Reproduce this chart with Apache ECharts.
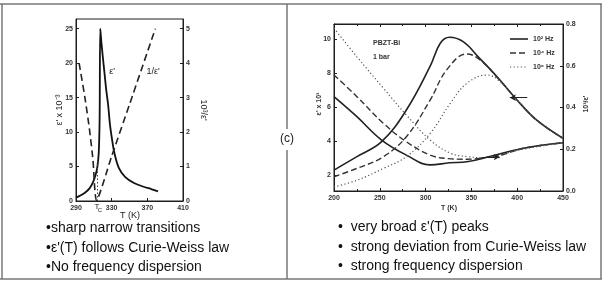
<!DOCTYPE html>
<html>
<head>
<meta charset="utf-8">
<script src="https://cdn.jsdelivr.net/npm/echarts@6/dist/echarts.min.js"></script>
<style>
  html, body { margin: 0; padding: 0; background: #fff; }
  #main { width: 609px; height: 282px; }
</style>
</head>
<body>
<div id="main"></div>
<script>
// left panel: normal ferroelectric
var tLeftEps = [290, 295, 300, 305, 309, 312, 314, 315.5, 316.5, 317.2, 318.5, 320, 322, 324, 326, 328, 330, 333, 338, 345, 355, 365, 375, 382];
var epsLeft  = [0.5, 0.8, 1.2, 1.8, 2.7, 3.8, 5.0, 7.0, 12, 25, 23, 21, 18.5, 16, 14, 11.2, 9.3, 7.0, 4.8, 3.5, 2.6, 2.1, 1.7, 1.4];
var tLeftInv = [293.5, 300, 305, 309, 313, 330, 350, 379];
var invLeft  = [4.0, 3.0, 2.1, 1.2, 0.02, 1.3, 2.8, 5.0];
var tc = 314;
var leftXTicks = [290, 330, 370, 410];
var leftYTicks = [0, 5, 10, 15, 20, 25];
var leftY2Ticks = [0, 1, 2, 3, 4, 5];

// right panel: PBZT-Bi relaxor, 3 frequencies
var freqNames = ['10² Hz', '10⁴ Hz', '10⁶ Hz'];
var tEps1 = [200, 225, 252, 279, 305, 316, 326, 341, 359, 378, 400, 421, 450];
var eps1  = [2.29, 3.08, 3.96, 5.82, 8.4, 9.75, 10.1, 9.84, 8.86, 7.78, 6.4, 5.24, 4.16];
var tEps2 = [200, 225, 254, 279, 305, 323, 345, 360, 378, 400, 421, 450];
var eps2  = [1.9, 2.39, 3.08, 4.25, 6.41, 8.18, 9.12, 8.75, 7.75, 6.4, 5.24, 4.16];
var tEps3 = [200, 225, 254, 279, 305, 327, 345, 367, 380, 400, 421, 450];
var eps3  = [1.3, 1.69, 2.39, 3.08, 4.45, 6.22, 7.39, 7.88, 7.55, 6.4, 5.24, 4.16];
var tInv1 = [200, 225, 252, 279, 305, 326, 345, 370, 407, 450];
var inv1  = [0.452, 0.356, 0.244, 0.172, 0.125, 0.135, 0.14, 0.165, 0.205, 0.231];
var tInv2 = [200, 225, 254, 279, 305, 325, 345, 365, 385, 407, 450];
var inv2  = [0.556, 0.452, 0.324, 0.236, 0.172, 0.155, 0.152, 0.16, 0.175, 0.205, 0.231];
var tInv3 = [200, 225, 254, 279, 305, 327, 345, 362, 380, 400, 450];
var inv3  = [0.78, 0.643, 0.492, 0.364, 0.244, 0.181, 0.165, 0.16, 0.17, 0.195, 0.231];
var rightYTicks = [2, 4, 6, 8, 10];
var rightY2Ticks = [0, 0.2, 0.4, 0.6, 0.8];

function zip(xs, ys) {
  return xs.map(function (x, i) { return [x, ys[i]]; });
}

var ink = '#1e1e1e';
var tickFont = { fontSize: 7, color: '#333', fontFamily: 'Liberation Sans', fontWeight: 'bold' };
var styles = [
  { type: 'solid', width: 1.6, color: '#222' },
  { type: [6, 3], width: 1.4, color: '#333' },
  { type: [1.2, 2.4], width: 1.2, color: '#555' }
];

function axisX(gridIndex, min, max, ticks, pos, showLabels) {
  return {
    type: 'value', gridIndex: gridIndex, min: min, max: max, position: pos,
    axisLine: { show: true, lineStyle: { color: ink, width: 1 } },
    axisTick: { show: true, inside: true, length: 3, customValues: ticks, lineStyle: { color: ink } },
    axisLabel: { show: showLabels, customValues: ticks, margin: 4, ...tickFont },
    splitLine: { show: false }
  };
}
function axisXRight(pos, showLabels) {
  return {
    type: 'value', gridIndex: 1, min: 200, max: 450, interval: 50, position: pos,
    axisLine: { show: true, lineStyle: { color: ink, width: 1 } },
    axisTick: { show: true, inside: true, length: 3, lineStyle: { color: ink } },
    minorTick: { show: true, splitNumber: 2, length: 2, lineStyle: { color: ink } },
    axisLabel: { show: showLabels, margin: 4, ...tickFont },
    splitLine: { show: false }
  };
}
function axisY(gridIndex, min, max, ticks, pos, fmt) {
  return {
    type: 'value', gridIndex: gridIndex, min: min, max: max, position: pos,
    axisLine: { show: true, lineStyle: { color: ink, width: 1 } },
    axisTick: { show: true, inside: true, length: 3, customValues: ticks, lineStyle: { color: ink } },
    axisLabel: { show: true, customValues: ticks, margin: 3, formatter: fmt, ...tickFont },
    splitLine: { show: false }
  };
}

var series = [];
series.push({
  type: 'line', xAxisIndex: 0, yAxisIndex: 0, symbol: 'none', smooth: 0.3,
  lineStyle: { color: '#111', width: 1.8 }, data: zip(tLeftEps, epsLeft), silent: true,
  markLine: {
    silent: true, symbol: 'none', label: { show: false },
    lineStyle: { type: [1.5, 2], color: '#444', width: 1 },
    data: [[{ coord: [tc, 0] }, { coord: [tc, 6] }]]
  }
});
series.push({
  type: 'line', xAxisIndex: 0, yAxisIndex: 1, symbol: 'none', smooth: 0.2,
  lineStyle: { color: '#222', width: 1.6, type: [7, 4] }, data: zip(tLeftInv, invLeft), silent: true
});

var epsSets = [zip(tEps1, eps1), zip(tEps2, eps2), zip(tEps3, eps3)];
var invSets = [zip(tInv1, inv1), zip(tInv2, inv2), zip(tInv3, inv3)];
for (var i = 0; i < 3; i++) {
  series.push({
    name: freqNames[i], type: 'line', xAxisIndex: 1, yAxisIndex: 2, symbol: 'none', smooth: 0.4,
    lineStyle: styles[i], itemStyle: { color: styles[i].color }, data: epsSets[i], silent: true,
    markLine: i === 0 ? {
      silent: true, symbol: ['none', 'arrow'], symbolSize: [5, 6], label: { show: false },
      lineStyle: { type: 'solid', color: '#222', width: 1 },
      data: [[{ coord: [411, 6.55] }, { coord: [392, 6.55] }]]
    } : undefined
  });
  series.push({
    name: freqNames[i], type: 'line', xAxisIndex: 1, yAxisIndex: 3, symbol: 'none', smooth: 0.4,
    lineStyle: styles[i], itemStyle: { color: styles[i].color }, data: invSets[i], silent: true,
    markLine: i === 0 ? {
      silent: true, symbol: ['none', 'arrow'], symbolSize: [5, 6], label: { show: false },
      lineStyle: { type: 'solid', color: '#222', width: 1 },
      data: [[{ coord: [361, 0.163] }, { coord: [381, 0.163] }]]
    } : undefined
  });
}

var frame = { stroke: '#777', lineWidth: 1.5 };
var bulletFont = '14px "Liberation Sans", Arial, sans-serif';
var smallBold = 'bold 7px "Liberation Sans", Arial, sans-serif';

// hand-drawn legend keys, same styles as the series
var legendKeys = [];
freqNames.forEach(function (name, k) {
  var y = 39 + k * 14;
  legendKeys.push({ type: 'line', shape: { x1: 510, y1: y, x2: 528, y2: y },
    style: { stroke: styles[k].color, lineWidth: styles[k].width, lineDash: styles[k].type === 'solid' ? null : styles[k].type } });
  legendKeys.push({ type: 'text', x: 533, y: y, style: { text: name, font: smallBold, fill: '#333', textVerticalAlign: 'middle' } });
});

var option = {
  animation: false,
  backgroundColor: '#fff',
  grid: [
    { left: 76, top: 19, width: 107, height: 182, show: true, borderColor: ink, borderWidth: 1 },
    { left: 334, top: 24, width: 229, height: 167, show: true, borderColor: ink, borderWidth: 1 }
  ],
  xAxis: [
    axisX(0, 290, 410, leftXTicks, 'bottom', true),
    axisXRight('bottom', true),
    axisXRight('top', false)
  ],
  yAxis: [
    axisY(0, 0, 26.4, leftYTicks, 'left'),
    axisY(0, 0, 5.28, leftY2Ticks, 'right'),
    axisY(1, 1.06, 10.88, rightYTicks, 'left'),
    axisY(1, 0, 0.8, rightY2Ticks, 'right', function (v) { return v.toFixed(1); })
  ],
  series: series,
  graphic: legendKeys.concat([
    { type: 'line', shape: { x1: 0, y1: 4, x2: 602, y2: 4 }, style: frame },
    { type: 'line', shape: { x1: 0, y1: 279, x2: 602, y2: 279 }, style: frame },
    { type: 'line', shape: { x1: 2, y1: 4, x2: 2, y2: 279 }, style: frame },
    { type: 'line', shape: { x1: 601, y1: 4, x2: 601, y2: 279 }, style: frame },
    { type: 'line', shape: { x1: 287, y1: 4, x2: 287, y2: 129 }, style: frame },
    { type: 'line', shape: { x1: 287, y1: 150, x2: 287, y2: 279 }, style: frame },
    { type: 'text', x: 287, y: 139, style: { text: '(c)', font: '12px "Liberation Sans", Arial', fill: '#222', textAlign: 'center', textVerticalAlign: 'middle' } },

    // left panel annotations
    { type: 'text', x: 112, y: 72, style: { text: "ε'", font: '9px "Liberation Sans"', fill: '#222', textAlign: 'center', textVerticalAlign: 'middle' } },
    { type: 'text', x: 153, y: 72, style: { text: "1/ε'", font: '9px "Liberation Sans"', fill: '#222', textAlign: 'center', textVerticalAlign: 'middle' } },
    { type: 'text', x: 60, y: 110, rotation: Math.PI / 2, style: { text: "ε' x 10⁻³", font: '9px "Liberation Sans"', fill: '#222', textAlign: 'center', textVerticalAlign: 'middle' } },
    { type: 'text', x: 203, y: 110, rotation: -Math.PI / 2, style: { text: "10³/ε'", font: '9px "Liberation Sans"', fill: '#222', textAlign: 'center', textVerticalAlign: 'middle' } },
    { type: 'text', x: 97, y: 207, style: { text: 'T', font: '8px "Liberation Sans"', fill: '#222', textAlign: 'center', textVerticalAlign: 'middle' } },
    { type: 'text', x: 100, y: 210, style: { text: 'C', font: '6px "Liberation Sans"', fill: '#222', textAlign: 'center', textVerticalAlign: 'middle' } },
    { type: 'text', x: 130, y: 216, style: { text: 'T (K)', font: '9px "Liberation Sans"', fill: '#222', textAlign: 'center', textVerticalAlign: 'middle' } },

    // right panel annotations
    { type: 'text', x: 373, y: 43, style: { text: 'PBZT-Bi', font: smallBold, fill: '#333', textVerticalAlign: 'middle' } },
    { type: 'text', x: 373, y: 57, style: { text: '1 bar', font: smallBold, fill: '#333', textVerticalAlign: 'middle' } },
    { type: 'text', x: 449, y: 208, style: { text: 'T (K)', font: smallBold, fill: '#333', textAlign: 'center', textVerticalAlign: 'middle' } },
    { type: 'text', x: 319, y: 104, rotation: Math.PI / 2, style: { text: "ε' x 10³", font: smallBold, fill: '#333', textAlign: 'center', textVerticalAlign: 'middle' } },
    { type: 'text', x: 586, y: 104, rotation: Math.PI / 2, style: { text: "10³/ε'", font: smallBold, fill: '#333', textAlign: 'center', textVerticalAlign: 'middle' } },

    // bullet texts
    { type: 'text', x: 46, y: 228, style: { text: '•sharp narrow transitions', font: bulletFont, fill: '#111', textVerticalAlign: 'middle' } },
    { type: 'text', x: 46, y: 248, style: { text: "•ε'(T) follows Curie-Weiss law", font: bulletFont, fill: '#111', textVerticalAlign: 'middle' } },
    { type: 'text', x: 46, y: 267, style: { text: '•No frequency dispersion', font: bulletFont, fill: '#111', textVerticalAlign: 'middle' } },
    { type: 'text', x: 338, y: 227, style: { text: "•  very broad ε'(T) peaks", font: bulletFont, fill: '#111', textVerticalAlign: 'middle' } },
    { type: 'text', x: 338, y: 247, style: { text: '•  strong deviation from Curie-Weiss law', font: bulletFont, fill: '#111', textVerticalAlign: 'middle' } },
    { type: 'text', x: 338, y: 266, style: { text: '•  strong frequency dispersion', font: bulletFont, fill: '#111', textVerticalAlign: 'middle' } }
  ])
};

var chart = echarts.init(document.getElementById('main'), null, { renderer: 'canvas' });
chart.setOption(option);
</script>
</body>
</html>
